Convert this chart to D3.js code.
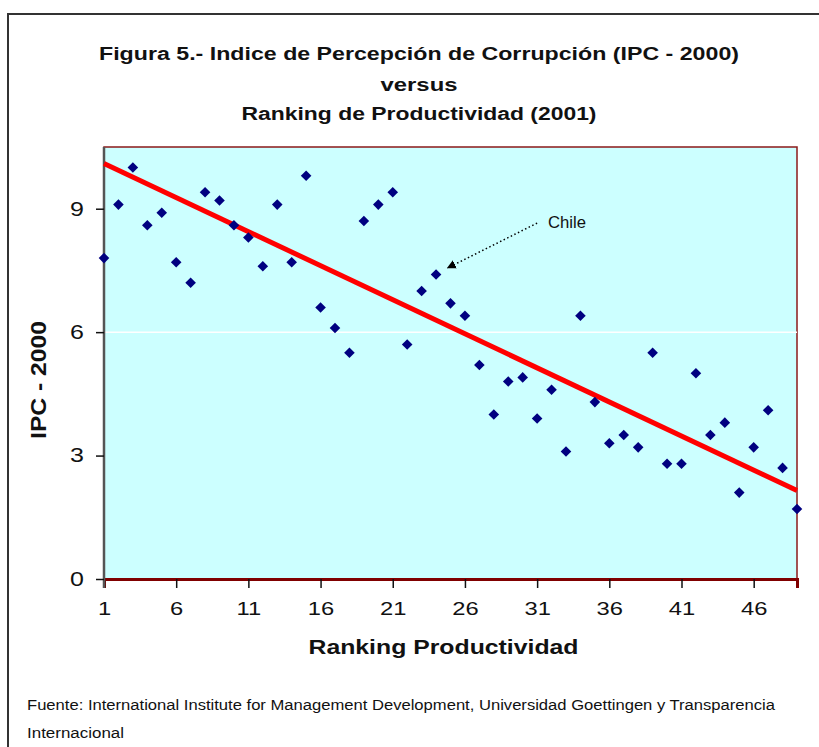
<!DOCTYPE html>
<html>
<head>
	<meta charset="utf-8">
	<title>Figura 5 - IPC vs Ranking</title>
	<script src="https://d3js.org/d3.v7.min.js"></script>
	<style>
		body { margin: 0; background: #fff; }
		text { font-family: 'Liberation Sans', Arial, sans-serif; }
	</style>
</head>
<body>
	<div class="chart"></div>

	<script type="text/javascript">
		// IPC 2000 por ranking de productividad 2001
		const ipc = [7.8, 9.1, 10.0, 8.6, 8.9, 7.7, 7.2, 9.4, 9.2, 8.6,
			8.3, 7.6, 9.1, 7.7, 9.8, 6.6, 6.1, 5.5, 8.7, 9.1,
			9.4, 5.7, 7.0, 7.4, 6.7, 6.4, 5.2, 4.0, 4.8, 4.9,
			3.9, 4.6, 3.1, 6.4, 4.3, 3.3, 3.5, 3.2, 5.5, 2.8,
			2.8, 5.0, 3.5, 3.8, 2.1, 3.2, 4.1, 2.7, 1.7]
		// línea de tendencia tal como aparece en la figura (extremos)
		const trendRank = [1, 49]
		const trendIpc = [10.1, 2.15]
		const xTicks = [1, 6, 11, 16, 21, 26, 31, 36, 41, 46]
		const yTicks = [0, 3, 6, 9]
		const gridValues = [6]
		const titleLines = [
			'Figura 5.- Indice de Percepción de Corrupción (IPC - 2000)',
			'versus',
			'Ranking de Productividad (2001)'
		]
		const footerLines = [
			'Fuente: International Institute for Management Development, Universidad Goettingen y Transparencia',
			'Internacional'
		]
		// Chile = ranking 24
		const chile = { label: 'Chile', rank: 24, textAt: [31.75, 8.53], from: [31.0, 8.65], to: [24.8, 7.56] }

		const width = 819
		const height = 747
		const plot = { left: 104, top: 147, right: 797, bottom: 579 }

		const data = ipc.map((v, i) => ({ rank: i + 1, ipc: v }))
		const trend = trendRank.map((r, i) => ({ rank: r, ipc: trendIpc[i] }))

		const svg = d3.select('.chart').append('svg')
			.attr('width', width)
			.attr('height', height)

		svg.append('defs').append('marker')
			.attr('id', 'arrow')
			.attr('viewBox', '0 0 10 10')
			.attr('refX', 9)
			.attr('refY', 5)
			.attr('markerWidth', 9)
			.attr('markerHeight', 9)
			.attr('markerUnits', 'userSpaceOnUse')
			.attr('orient', 'auto')
			.append('path')
			.attr('d', 'M0,0 L10,5 L0,10 z')
			.attr('fill', '#000')

		// marco exterior
		svg.append('path')
			.attr('d', `M8,${height} V14 H${width}`)
			.attr('fill', 'none')
			.attr('stroke', '#333')
			.attr('stroke-width', 2)

		const xScale = d3.scaleLinear()
			.domain([1, 49])
			.range([plot.left, plot.right])

		const yScale = d3.scaleLinear()
			.domain([0, 10.5])
			.range([plot.bottom, plot.top])

		// fondo del área
		svg.append('rect')
			.attr('x', plot.left)
			.attr('y', plot.top)
			.attr('width', plot.right - plot.left)
			.attr('height', plot.bottom - plot.top)
			.attr('fill', '#ccffff')
			.attr('stroke', '#8b1a1a')
			.attr('stroke-width', 1.5)

		svg.append('g')
			.selectAll('line')
			.data(gridValues)
			.join('line')
			.attr('x1', plot.left)
			.attr('x2', plot.right)
			.attr('y1', d => yScale(d))
			.attr('y2', d => yScale(d))
			.attr('stroke', '#fff')
			.attr('stroke-width', 1.5)

		// ejes
		const xAxis = svg.append('g')
			.attr('transform', `translate(0, ${plot.bottom})`)
			.call(d3.axisBottom(xScale).tickValues(xTicks).tickSize(9).tickPadding(14))
		xAxis.select('.domain').attr('stroke', '#800000').attr('stroke-width', 3)
		xAxis.selectAll('.tick line').attr('stroke', '#111').attr('stroke-width', 1.5)
		xAxis.selectAll('.tick text')
			.attr('font-size', 19)
			.attr('fill', '#111')
			.attr('transform', 'scale(1.25,1)')

		const yAxis = svg.append('g')
			.attr('transform', `translate(${plot.left}, 0)`)
			.call(d3.axisLeft(yScale).tickValues(yTicks).tickSize(8).tickPadding(0).tickSizeOuter(0))
		yAxis.select('.domain').attr('stroke', '#555').attr('stroke-width', 2.5)
			.attr('d', `M0,${plot.top}V${plot.bottom + 9}`)
		yAxis.selectAll('.tick line').attr('stroke', '#111').attr('stroke-width', 1.5)
		yAxis.selectAll('.tick text')
			.attr('font-size', 20)
			.attr('fill', '#111')
			.attr('x', -16)
			.attr('transform', 'scale(1.25,1)')

		// línea de tendencia
		svg.append('path')
			.attr('d', d3.line().x(d => xScale(d.rank)).y(d => yScale(d.ipc))(trend))
			.attr('fill', 'none')
			.attr('stroke', '#ff0000')
			.attr('stroke-width', 5)

		// puntos
		svg.append('g')
			.selectAll('path')
			.data(data)
			.join('path')
			.attr('d', d3.symbol(d3.symbolSquare, 56))
			.attr('transform', d => `translate(${xScale(d.rank)}, ${yScale(d.ipc)}) rotate(45)`)
			.attr('fill', '#000080')

		// anotación Chile
		svg.append('line')
			.attr('x1', xScale(chile.from[0]))
			.attr('y1', yScale(chile.from[1]))
			.attr('x2', xScale(chile.to[0]))
			.attr('y2', yScale(chile.to[1]))
			.attr('stroke', '#000')
			.attr('stroke-width', 1.5)
			.attr('stroke-dasharray', '1.5,2.5')
			.attr('marker-end', 'url(#arrow)')

		svg.append('text')
			.attr('x', xScale(chile.textAt[0]))
			.attr('y', yScale(chile.textAt[1]))
			.attr('font-size', 16)
			.attr('fill', '#111')
			.attr('textLength', 38)
			.attr('lengthAdjust', 'spacingAndGlyphs')
			.text(chile.label)

		// títulos
		const titleY = [60, 91, 120]
		const titleW = [640, 77, 355]
		svg.append('g')
			.selectAll('text')
			.data(titleLines)
			.join('text')
			.attr('x', 419)
			.attr('y', (d, i) => titleY[i])
			.attr('text-anchor', 'middle')
			.attr('font-size', 18)
			.attr('font-weight', 'bold')
			.attr('fill', '#111')
			.attr('textLength', (d, i) => titleW[i])
			.attr('lengthAdjust', 'spacingAndGlyphs')
			.text(d => d)

		svg.append('text')
			.attr('x', (plot.left + plot.right) / 2 - 7)
			.attr('y', 654)
			.attr('text-anchor', 'middle')
			.attr('font-size', 20)
			.attr('font-weight', 'bold')
			.attr('fill', '#111')
			.attr('textLength', 270)
			.attr('lengthAdjust', 'spacingAndGlyphs')
			.text('Ranking Productividad')

		svg.append('text')
			.attr('transform', `translate(46, 380) rotate(-90)`)
			.attr('text-anchor', 'middle')
			.attr('font-size', 22)
			.attr('font-weight', 'bold')
			.attr('fill', '#111')
			.attr('textLength', 118)
			.attr('lengthAdjust', 'spacingAndGlyphs')
			.text('IPC - 2000')

		// fuente
		const footerW = [748, 97]
		svg.append('g')
			.selectAll('text')
			.data(footerLines)
			.join('text')
			.attr('x', 27)
			.attr('y', (d, i) => 710 + i * 28)
			.attr('font-size', 14)
			.attr('fill', '#111')
			.attr('textLength', (d, i) => footerW[i])
			.attr('lengthAdjust', 'spacingAndGlyphs')
			.text(d => d)
	</script>
</body>
</html>
